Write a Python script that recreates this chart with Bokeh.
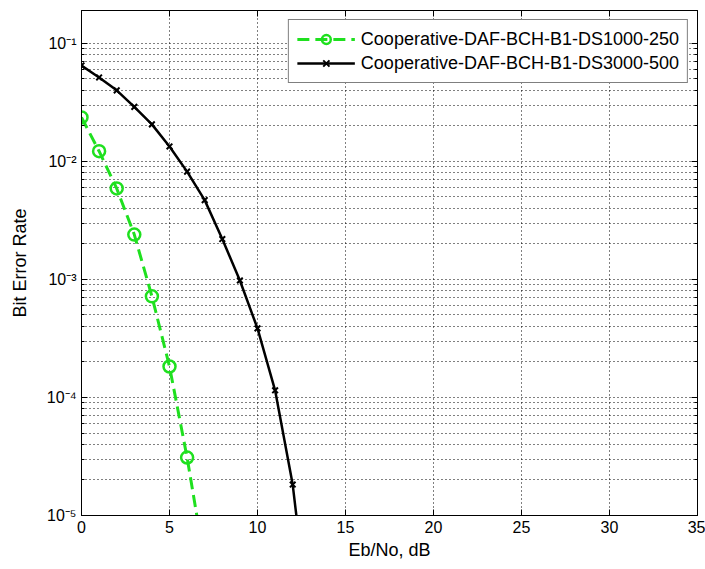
from bokeh.plotting import figure
from bokeh.models import (FixedTicker, Legend, LegendItem, LinearAxis, LogAxis,
                          Range1d)
from bokeh.embed import file_html
from bokeh.resources import INLINE

# ---- data ----
ebno_green = [0, 1, 2, 3, 4, 5, 6, 7]
ber_green = [0.0236, 0.0122, 0.0059, 0.0024, 7.2e-4, 1.83e-4, 3.1e-5, 4.0e-6]

ebno_black = [0, 1, 2, 3, 4, 5, 6, 7, 8, 9, 10, 11, 12, 13]
ber_black = [0.065, 0.0515, 0.040, 0.029, 0.0206, 0.0134, 0.0082, 0.0047,
             0.0022, 9.8e-4, 3.85e-4, 1.15e-4, 1.83e-5, 1.0e-6]

label_green = "Cooperative-DAF-BCH-B1-DS1000-250"
label_black = "Cooperative-DAF-BCH-B1-DS3000-500"

x_ticks = [0, 5, 10, 15, 20, 25, 30, 35]
y_ticks = [1e-5, 1e-4, 1e-3, 1e-2, 1e-1]
y_tick_labels = {1e-5: "10⁻⁵", 1e-4: "10⁻⁴", 1e-3: "10⁻³", 1e-2: "10⁻²", 1e-1: "10⁻¹"}
y_minor = [m * d for d in [1e-5, 1e-4, 1e-3, 1e-2, 1e-1] for m in range(2, 10)]

FONT = "Liberation Sans"

p = figure(width=705, height=569, y_axis_type="log",
           x_range=Range1d(0, 35), y_range=Range1d(1e-5, 0.19),
           output_backend="svg", toolbar_location=None,
           min_border_left=81, min_border_right=8, min_border_top=10,
           min_border_bottom=54, background_fill_color="white",
           border_fill_color="white")
p.outline_line_color = "black"
p.outline_line_width = 1
p.outline_line_alpha = 1

xt = FixedTicker(ticks=x_ticks)
yt = FixedTicker(ticks=y_ticks, minor_ticks=y_minor)

p.xaxis.ticker = xt
p.yaxis.ticker = yt
p.yaxis.major_label_overrides = y_tick_labels

for ax in (p.xaxis[0], p.yaxis[0]):
    ax.major_tick_in = 6
    ax.major_tick_out = 0
    ax.minor_tick_in = 3
    ax.minor_tick_out = 0
    ax.axis_line_color = "black"
    ax.major_tick_line_color = "black"
    ax.minor_tick_line_color = "black"
    ax.major_label_text_font = FONT
    ax.major_label_text_font_size = "16px"
    ax.major_label_text_color = "black"
    ax.axis_label_text_font = FONT
    ax.axis_label_text_font_size = "18px"
    ax.axis_label_text_font_style = "normal"
    ax.axis_label_text_color = "black"
    ax.major_label_standoff = 5
p.xaxis.minor_tick_line_color = None
p.xaxis.axis_label = "Eb/No, dB"
p.yaxis.axis_label = "Bit Error Rate"
p.xaxis.axis_label_standoff = 4
p.yaxis.axis_label_standoff = 14

# box ticks on top and right (labels hidden)
top = LinearAxis(ticker=xt, major_label_text_font_size="1px",
                 major_label_text_alpha=0, major_tick_in=6,
                 major_tick_out=0, minor_tick_line_color=None,
                 axis_line_color="black", major_label_standoff=0)
right = LogAxis(ticker=yt, major_label_text_font_size="1px",
                major_label_text_alpha=0, major_tick_in=6,
                major_tick_out=0, minor_tick_in=3, minor_tick_out=0,
                axis_line_color="black", major_label_standoff=0)
p.add_layout(top, "above")
p.add_layout(right, "right")

# grid (MATLAB-style dotted)
p.xgrid.grid_line_color = "black"
p.xgrid.grid_line_dash = "1 3"
p.xgrid.grid_line_width = 1
p.ygrid.grid_line_color = "black"
p.ygrid.grid_line_dash = "1 3"
p.ygrid.minor_grid_line_color = "black"
p.ygrid.minor_grid_line_dash = "1 3"

green = "#1fe01f"
lg = p.line(ebno_green, ber_green, line_color=green, line_width=3, line_dash="12 6")
sg = p.scatter(ebno_green, ber_green, marker="circle", size=12, line_color=green,
               line_width=2.5, fill_color=None)
lb = p.line(ebno_black, ber_black, line_color="black", line_width=2.5)
sb = p.scatter(ebno_black, ber_black, marker="x", size=8, line_color="black",
               line_width=2)

legend = Legend(items=[LegendItem(label=label_green, renderers=[lg, sg]),
                       LegendItem(label=label_black, renderers=[lb, sb])],
                location="top_right")
legend.margin = 9
legend.padding = 8
legend.spacing = 2
legend.glyph_width = 58
legend.glyph_height = 22
legend.label_height = 22
legend.label_standoff = 6
legend.label_text_font = FONT
legend.label_text_font_size = "18px"
legend.label_text_color = "black"
legend.border_line_color = "black"
legend.border_line_width = 1
legend.background_fill_color = "white"
legend.background_fill_alpha = 1
p.add_layout(legend)

open("out.html", "w").write(file_html(p, INLINE))
